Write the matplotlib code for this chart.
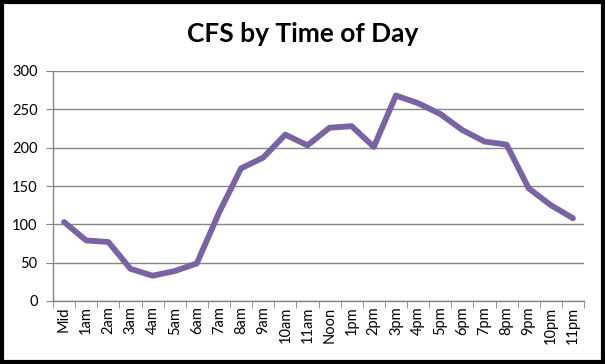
import matplotlib
matplotlib.use("Agg")
import matplotlib.pyplot as plt
from matplotlib.patches import Rectangle
import numpy as np

hours = ["Mid", "1am", "2am", "3am", "4am", "5am", "6am", "7am", "8am", "9am", "10am", "11am",
         "Noon", "1pm", "2pm", "3pm", "4pm", "5pm", "6pm", "7pm", "8pm", "9pm", "10pm", "11pm"]
cfs = [103, 79, 77, 42, 33, 39, 49, 115, 173, 187, 217, 203,
       226, 228, 201, 268, 258, 244, 223, 208, 204, 147, 125, 108]
yticks = [0, 50, 100, 150, 200, 250, 300]

plt.rcParams['font.family'] = ['Lato', 'DejaVu Sans']

fig = plt.figure(figsize=(6.05, 3.64), dpi=100)
ax = fig.add_axes([53/605, 1-301/364, (584-53)/605, (301-71)/364])

x = np.arange(len(hours))
ax.plot(x, cfs, color="#7B62A3", lw=4.2, solid_capstyle="round", solid_joinstyle="round", zorder=3)

ax.set_xlim(-0.5, len(hours) - 0.5)
ax.set_ylim(0, 300)
ax.set_yticks(yticks)
ax.set_yticklabels([str(v) for v in yticks], fontsize=10.5)
ax.yaxis.grid(True, color="#868686", lw=1)
ax.set_axisbelow(True)

ax.set_xticks(x)
ax.set_xticklabels(hours, rotation=90, fontsize=10.5)
ax.tick_params(axis="x", which="major", length=0, pad=4)
ax.set_xticks(np.arange(-0.5, len(hours), 1), minor=True)
ax.tick_params(axis="x", which="minor", length=5, color="#868686", direction="out")
ax.tick_params(axis="y", length=5, color="#868686", direction="out", pad=6)

for s in ["top", "right"]:
    ax.spines[s].set_visible(False)
for s in ["left", "bottom"]:
    ax.spines[s].set_color("#868686")
    ax.spines[s].set_linewidth(1)

fig.text(0.5, 1-34/364, "CFS by Time of Day", ha="center", va="center",
         fontsize=19, fontweight="bold")

fig.patches.append(Rectangle((0.004, 0.005), 0.992, 0.990, transform=fig.transFigure,
                             fill=False, edgecolor="black", lw=3))

fig.savefig("out.png", dpi=100)
